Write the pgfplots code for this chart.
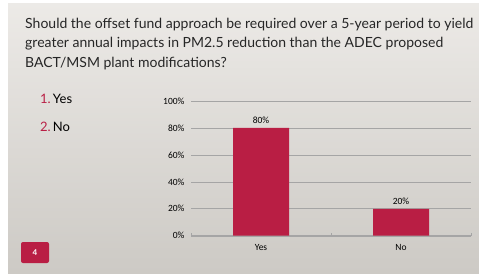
\documentclass[border=0pt]{standalone}
\usepackage{pgfplots}
\pgfplotsset{compat=1.18}
\usepackage{fontspec}
\setmainfont{Lato}
\newfontfamily\tickfont{Carlito}
\definecolor{crim}{RGB}{185,30,68}
\definecolor{bgA}{RGB}{232,229,225}
\definecolor{bgB}{RGB}{205,202,197}
\definecolor{gridc}{RGB}{165,165,165}
\begin{document}
\begin{tikzpicture}[x=1pt,y=1pt]
\useasboundingbox (0,0) rectangle (479,274);
\fill[white] (0,0) rectangle (479,274);
\shade[left color=bgA,right color=bgB,shading angle=0] (8,1) rectangle (479,271);
\shade[top color=bgA!60!white,bottom color=bgB,opacity=0.5] (8,1) rectangle (479,271);
% title
\node[anchor=base west,inner sep=0pt,font=\fontsize{14}{16}\selectfont,text=black!85] at (25,246) {Should the offset fund approach be required over a 5-year period to yield};
\node[anchor=base west,inner sep=0pt,font=\fontsize{14}{16}\selectfont,text=black!85] at (25,226.5) {greater annual impacts in PM2.5 reduction than the ADEC proposed};
\node[anchor=base west,inner sep=0pt,font=\fontsize{14}{16}\selectfont,text=black!85] at (25,207) {BACT/MSM plant modifications?};
% legend list
\node[anchor=base west,inner sep=0pt,font=\fontsize{13}{15}\selectfont] at (40,171) {\textcolor{crim}{1.}\,Yes};
\node[anchor=base west,inner sep=0pt,font=\fontsize{13}{15}\selectfont] at (40,143) {\textcolor{crim}{2.}\,No};
% slide number box
\fill[crim,rounded corners=2pt] (21,11) rectangle (49,32);
\node[text=white,font=\fontsize{8}{9}\selectfont\bfseries] at (35,21.5) {4};
\coordinate (A) at (191,38.3);
\begin{axis}[
  at={(A)}, anchor=south west,
  scale only axis, width=280pt, height=134.7pt,
  xmin=-0.5, xmax=1.5, ymin=0, ymax=100,
  axis lines*=left,
  y axis line style={draw=none},
  x axis line style={gridc},
  xtick={-0.5,0.5,1.5}, xticklabels={},
  extra x ticks={0,1}, extra x tick labels={Yes,No},
  extra x tick style={major tick length=0pt, tick style={draw=none}},
  major tick length=3pt,
  x tick style={gridc},
  ytick={0,20,40,60,80,100},
  yticklabels={0\%,20\%,40\%,60\%,80\%,100\%},
  ymajorgrids, grid style={gridc, line width=0.6pt},
  y tick style={draw=none},
  /pgf/number format/assume math mode=true,
  yticklabel style={font=\tickfont\fontsize{9.5}{10}\selectfont, xshift=-3pt},
  xticklabel style={font=\tickfont\fontsize{9.5}{10}\selectfont, yshift=-5pt},
  clip=false,
]
\addplot[ybar, bar width=56pt, fill=crim, draw=none,
  nodes near coords={\pgfmathprintnumber{\pgfplotspointmeta}\%},
  nodes near coords style={font=\tickfont\fontsize{9.5}{10}\selectfont, text=black, yshift=1pt}]
  coordinates {(0,80) (1,20)};
\end{axis}
\end{tikzpicture}
\end{document}
